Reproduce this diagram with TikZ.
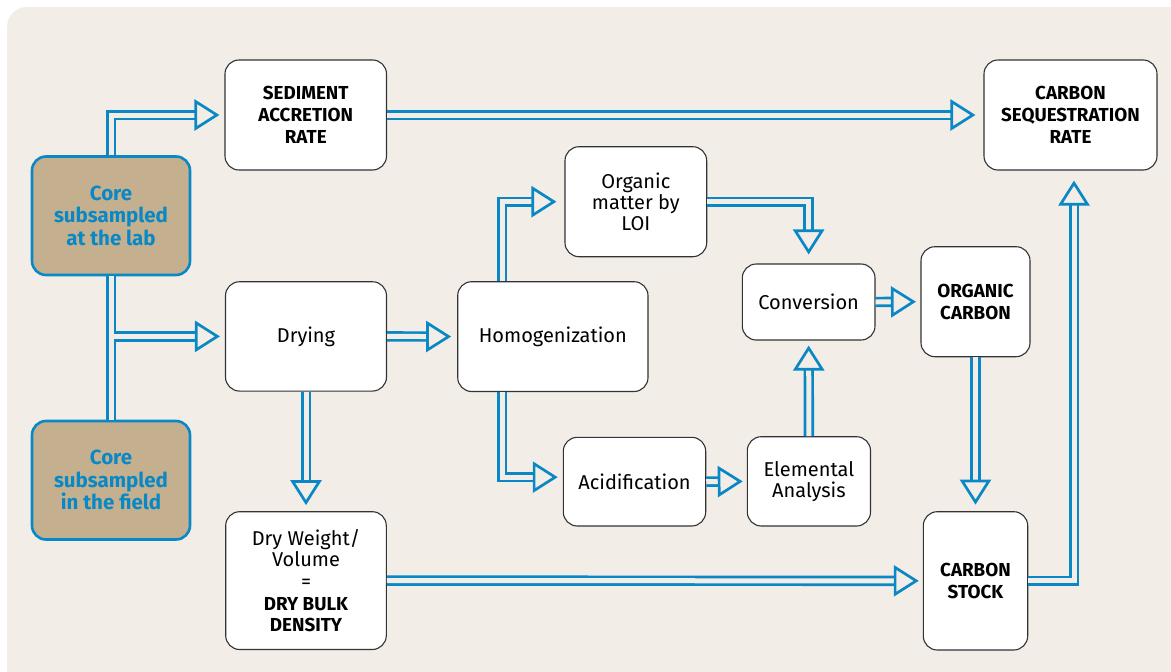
\documentclass[tikz,border=0pt]{standalone}
\usepackage{fontspec}
\setmainfont{Fira Sans}
\usetikzlibrary{arrows.meta,calc}
\definecolor{bgc}{HTML}{F2EDE7}
\definecolor{ablue}{HTML}{0A88C6}
\definecolor{tanc}{HTML}{C4B08E}
\definecolor{boxline}{HTML}{333333}
\begin{document}
\begin{tikzpicture}[x=1pt,y=-1pt,
  box/.style={draw=boxline, line width=1.1pt, fill=white, rounded corners=14pt, align=center, inner sep=0pt,
    font=\fontsize{20}{21}\selectfont},
  bbox/.style={box, font=\fontsize{18.8}{22}\selectfont\bfseries},
  core/.style={draw=ablue, line width=2.6pt, fill=tanc, rounded corners=14pt, align=center, inner sep=0pt,
    text=ablue, font=\fontsize{20.5}{22.5}\selectfont\bfseries},
  conn/.style={draw=ablue, line width=2.7pt, double=bgc, double distance=5pt,
    -{Triangle[open, length=25pt, width=31pt]}, shorten >=#1},
  conn/.default=6pt
]
\useasboundingbox (0,0) rectangle (1171,672);
\fill[white] (0,0) rectangle (1171,672);
\fill[bgc, rounded corners=20pt] (7,7) rectangle (1200,700);

% nodes
\node[bbox, minimum width=161.5, minimum height=110] (sar) at (305.75,115) {SEDIMENT\\ACCRETION\\RATE};
\node[bbox, minimum width=173, minimum height=110] (csr) at (1070.5,115) {CARBON\\SEQUESTRATION\\RATE};
\node[core, minimum width=158, minimum height=118.5] (lab) at (111,215.75) {Core\\subsampled\\at the lab};
\node[core, minimum width=158, minimum height=118.5] (field) at (111,480.25) {Core\\subsampled\\in the field};
\node[box, minimum width=161, minimum height=109.3] (drying) at (306,336.4) {Drying};
\node[box, minimum width=190.3, minimum height=109.8] (homog) at (552.85,336.6) {Homogenization};
\node[box, minimum width=141.7, minimum height=110] (loi) at (635.85,201.7) {Organic\\matter by\\LOI};
\node[box, minimum width=132.7, minimum height=76] (conv) at (808.65,302) {Conversion};
\node[bbox, minimum width=109, minimum height=110] (oc) at (975.5,301.7) {ORGANIC\\CARBON};
\node[box, minimum width=142.4, minimum height=88.7] (acid) at (634.5,481.65) {Acidification};
\node[box, minimum width=123.2, minimum height=89.3] (elem) at (808.9,481.35) {Elemental\\Analysis};
\node[box, minimum width=160.6, minimum height=137.8, font=\fontsize{20}{21.7}\selectfont] (dry) at (306,580.6)
  {Dry Weight/\\Volume\\=\\{\fontsize{18.8}{21.7}\selectfont\bfseries DRY BULK}\\{\fontsize{18.8}{21.7}\selectfont\bfseries DENSITY}};
\node[bbox, minimum width=104.4, minimum height=138.3] (stock) at (975.5,580.85) {CARBON\\STOCK};

% connectors
\draw[conn=5pt] (lab.north) |- (sar.west);
\draw[conn=5pt] (lab.south) -- (field.north) (lab.south |- drying.west) -- (drying.west);
\draw[conn] (drying.east) -- (homog.west);
\draw[conn] (drying.south) -- (dry.north);
\draw[conn=8pt] ($(homog.north west)+(45,0)$) |- (loi.west);
\draw[conn=5pt] ($(homog.south west)+(45,0)$) |- ($(acid.west)+(0,-4.5)$);
\draw[conn=9pt] (loi.east) -| (conv.north);
\draw[conn=5pt] (elem.north) -- (conv.south);
\draw[conn=4pt] (acid.east) -- (elem.west);
\draw[conn=4.5pt] (conv.east) -- (oc.west);
\draw[conn=6.5pt] (oc.south) -- (stock.north);
\draw[conn=4pt] (dry.east) -- (stock.west);
\draw[conn=10pt] (stock.east) -| ($(csr.south)+(3.5,0)$);
\draw[conn=8pt] (sar.east) -- (csr.west);
\end{tikzpicture}
\end{document}
